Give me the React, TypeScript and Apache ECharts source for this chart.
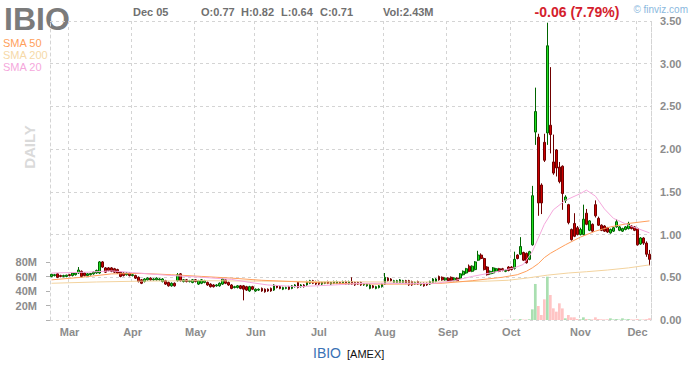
import React, { useEffect, useRef } from 'react';
import * as echarts from 'echarts';

const ticker = 'IBIO';
const exchange = 'AMEX';
const lastDateLabel = 'Dec 05';
const lastVolumeLabel = '2.43M';

// daily candles: [open, high, low, close]
const ohlc: number[][] = [
  [0.51,0.54,0.50,0.535],[0.52,0.54,0.51,0.53],[0.54,0.55,0.49,0.50],[0.52,0.53,0.50,0.51],[0.51,0.53,0.50,0.52],
  [0.51,0.53,0.50,0.525],[0.53,0.54,0.51,0.52],[0.52,0.56,0.51,0.55],[0.53,0.56,0.52,0.55],[0.55,0.62,0.54,0.585],
  [0.57,0.58,0.50,0.51],[0.55,0.56,0.51,0.52],[0.52,0.55,0.51,0.54],[0.53,0.55,0.52,0.545],[0.54,0.57,0.53,0.56],
  [0.55,0.59,0.54,0.58],[0.55,0.69,0.54,0.68],[0.68,0.69,0.61,0.62],[0.61,0.62,0.55,0.56],[0.61,0.62,0.57,0.58],
  [0.61,0.62,0.56,0.57],[0.60,0.61,0.55,0.56],[0.59,0.60,0.54,0.55],[0.56,0.57,0.50,0.51],[0.55,0.56,0.51,0.52],
  [0.53,0.56,0.52,0.55],[0.55,0.56,0.51,0.52],[0.52,0.54,0.51,0.53],[0.52,0.53,0.48,0.49],[0.50,0.51,0.44,0.45],
  [0.47,0.48,0.42,0.43],[0.45,0.49,0.44,0.48],[0.47,0.50,0.46,0.49],[0.49,0.50,0.46,0.47],[0.47,0.49,0.46,0.48],
  [0.47,0.50,0.46,0.49],[0.47,0.49,0.46,0.48],[0.45,0.49,0.44,0.48],[0.46,0.47,0.41,0.42],[0.44,0.45,0.39,0.40],
  [0.40,0.44,0.39,0.43],[0.43,0.44,0.39,0.40],[0.46,0.55,0.45,0.53],[0.54,0.55,0.45,0.46],[0.45,0.48,0.44,0.47],
  [0.47,0.48,0.44,0.45],[0.45,0.47,0.44,0.46],[0.44,0.48,0.43,0.47],[0.47,0.48,0.44,0.45],[0.42,0.47,0.41,0.46],
  [0.43,0.48,0.42,0.47],[0.44,0.47,0.43,0.46],[0.44,0.45,0.40,0.41],[0.42,0.43,0.38,0.39],[0.41,0.42,0.38,0.39],
  [0.40,0.42,0.39,0.41],[0.40,0.44,0.39,0.43],[0.42,0.49,0.41,0.48],[0.47,0.48,0.42,0.43],[0.44,0.45,0.40,0.41],
  [0.41,0.42,0.36,0.37],[0.38,0.40,0.37,0.39],[0.38,0.41,0.37,0.40],[0.40,0.41,0.36,0.37],[0.40,0.41,0.23,0.36],
  [0.39,0.40,0.34,0.35],[0.34,0.40,0.33,0.39],[0.39,0.40,0.35,0.36],[0.34,0.37,0.33,0.36],[0.35,0.37,0.34,0.36],
  [0.37,0.38,0.33,0.34],[0.36,0.37,0.32,0.33],[0.36,0.37,0.33,0.34],[0.37,0.38,0.33,0.34],[0.35,0.42,0.34,0.41],
  [0.40,0.41,0.37,0.38],[0.39,0.40,0.36,0.37],[0.36,0.39,0.35,0.38],[0.37,0.39,0.36,0.38],[0.39,0.40,0.35,0.36],
  [0.37,0.41,0.36,0.40],[0.39,0.42,0.38,0.41],[0.44,0.45,0.37,0.38],[0.39,0.42,0.38,0.41],[0.41,0.42,0.38,0.39],
  [0.41,0.46,0.40,0.45],[0.43,0.47,0.42,0.46],[0.46,0.47,0.42,0.43],[0.45,0.46,0.41,0.42],[0.45,0.46,0.41,0.42],
  [0.42,0.45,0.41,0.44],[0.43,0.45,0.42,0.44],[0.45,0.46,0.42,0.43],[0.42,0.45,0.41,0.44],[0.43,0.46,0.42,0.45],
  [0.43,0.46,0.42,0.45],[0.44,0.45,0.42,0.43],[0.43,0.46,0.42,0.45],[0.45,0.46,0.41,0.42],[0.42,0.46,0.41,0.45],
  [0.45,0.50,0.41,0.42],[0.44,0.45,0.40,0.41],[0.44,0.45,0.41,0.42],[0.44,0.45,0.40,0.41],[0.41,0.43,0.40,0.42],
  [0.40,0.43,0.39,0.42],[0.37,0.42,0.36,0.41],[0.40,0.41,0.37,0.38],[0.37,0.40,0.36,0.39],[0.38,0.41,0.37,0.40],
  [0.39,0.43,0.38,0.42],[0.42,0.55,0.41,0.50],[0.49,0.50,0.45,0.46],[0.48,0.49,0.45,0.46],[0.44,0.47,0.43,0.46],
  [0.44,0.47,0.43,0.46],[0.44,0.48,0.43,0.47],[0.44,0.47,0.43,0.46],[0.46,0.47,0.42,0.43],[0.46,0.47,0.40,0.41],
  [0.45,0.46,0.40,0.41],[0.42,0.45,0.41,0.44],[0.45,0.46,0.41,0.42],[0.41,0.44,0.40,0.43],[0.43,0.44,0.39,0.40],
  [0.43,0.44,0.40,0.41],[0.42,0.46,0.41,0.45],[0.44,0.49,0.43,0.48],[0.45,0.49,0.44,0.48],[0.51,0.52,0.46,0.47],
  [0.50,0.51,0.46,0.47],[0.47,0.50,0.46,0.49],[0.49,0.50,0.45,0.46],[0.50,0.51,0.45,0.46],[0.46,0.50,0.45,0.49],
  [0.49,0.50,0.45,0.46],[0.49,0.55,0.48,0.54],[0.53,0.58,0.52,0.57],[0.55,0.61,0.54,0.60],[0.63,0.65,0.56,0.57],
  [0.57,0.64,0.56,0.63],[0.59,0.69,0.58,0.68],[0.70,0.81,0.69,0.76],[0.76,0.78,0.71,0.72],[0.72,0.73,0.58,0.59],
  [0.62,0.63,0.52,0.53],[0.54,0.58,0.53,0.57],[0.55,0.62,0.54,0.61],[0.57,0.61,0.56,0.60],[0.60,0.61,0.56,0.57],
  [0.60,0.61,0.57,0.58],[0.57,0.59,0.56,0.58],[0.62,0.63,0.57,0.58],[0.62,0.63,0.58,0.59],[0.605,0.80,0.59,0.71],
  [0.76,0.77,0.71,0.72],[0.77,0.97,0.76,0.86],[0.79,0.80,0.69,0.70],[0.78,0.79,0.66,0.67],[0.71,0.81,0.70,0.80],
  [0.88,1.57,0.87,1.455],[2.20,2.72,2.05,2.44],[2.14,2.18,1.22,1.37],[1.58,1.60,1.24,1.37],[2.08,2.18,1.85,1.87],
  [2.19,3.48,2.05,3.21],[2.28,2.96,1.95,2.17],[1.85,2.17,1.70,1.72],[1.99,2.00,1.68,1.78],[1.79,1.85,1.60,1.62],
  [1.80,1.81,1.29,1.48],[1.40,1.46,1.37,1.44],[1.35,1.36,1.12,1.14],[1.06,1.07,0.93,0.94],[1.13,1.25,0.97,0.98],
  [1.08,1.10,0.99,1.00],[1.00,1.08,0.99,1.06],[1.00,1.35,0.99,1.18],[1.25,1.30,1.11,1.12],[1.05,1.17,1.04,1.16],
  [1.12,1.13,1.03,1.04],[1.35,1.40,1.20,1.22],[1.19,1.21,1.10,1.11],[1.11,1.12,1.04,1.05],[1.10,1.11,1.03,1.04],
  [1.08,1.09,1.02,1.03],[1.02,1.07,1.01,1.06],[1.04,1.09,1.03,1.08],[1.09,1.18,1.08,1.15],[1.05,1.10,1.04,1.09],
  [1.04,1.08,1.03,1.07],[1.06,1.10,1.05,1.09],[1.07,1.15,1.06,1.13],[1.10,1.11,1.06,1.07],[1.09,1.10,1.04,1.05],
  [1.07,1.08,0.87,0.88],[0.89,0.97,0.88,0.96],[0.96,0.97,0.88,0.90],[0.90,0.92,0.74,0.77],[0.77,0.82,0.64,0.71],
];

// month tick labels and the candle index where each month starts
const monthLabels = ['Mar', 'Apr', 'May', 'Jun', 'Jul', 'Aug', 'Sep', 'Oct', 'Nov', 'Dec'];
const monthStart = [6, 27, 48, 68, 89, 111, 132, 153, 176, 195];

// volume in millions, from candle index volStart onwards
const volStart = 150;
const volumeM = [
  0.3, 0.3, 0.3, 0.4, 0.8, 0.5, 1.4, 0.6, 0.5, 1.0,
  14.7, 49.7, 19.3, 6.9, 28.5, 59.8, 34.5, 16.1, 11.5, 23,
  16, 2.3, 6.9, 3.7, 3.7, 1.4, 1.0, 3.7, 1.4, 1.0,
  0.8, 3.7, 1.4, 1.0, 0.8, 1.0, 2.3, 0.8, 1.4, 0.6,
  2.3, 0.8, 1.4, 0.8, 0.7, 1.4, 0.6, 0.8, 1.2, 2.43,
];

// moving averages read at candle indices: [index, value]
const sma50 = [
  [0, 0.47], [10, 0.50], [20, 0.54], [30, 0.545], [40, 0.53], [50, 0.51], [60, 0.49], [70, 0.465],
  [80, 0.45], [90, 0.435], [100, 0.425], [110, 0.42], [120, 0.42], [130, 0.43], [140, 0.46], [145, 0.48],
  [150, 0.50], [155, 0.53], [158, 0.57], [160, 0.61], [162, 0.66], [164, 0.73], [166, 0.78], [168, 0.82],
  [171, 0.88], [176, 0.97], [181, 1.04], [186, 1.09], [192, 1.13], [199, 1.16],
];
const sma200 = [
  [0, 0.43], [15, 0.445], [30, 0.455], [50, 0.46], [70, 0.455], [90, 0.45], [110, 0.445], [130, 0.445],
  [145, 0.455], [152, 0.465], [158, 0.49], [165, 0.525], [172, 0.55], [178, 0.565], [185, 0.585],
  [192, 0.61], [199, 0.645],
];
const sma20 = [
  [0, 0.55], [12, 0.56], [20, 0.575], [27, 0.555], [38, 0.525], [50, 0.50], [60, 0.475], [66, 0.44],
  [72, 0.41], [82, 0.39], [94, 0.41], [104, 0.43], [112, 0.43], [120, 0.425], [128, 0.43], [134, 0.46],
  [140, 0.51], [146, 0.55], [150, 0.58], [154, 0.61], [157, 0.65], [160, 0.80], [162, 0.96], [164, 1.12],
  [167, 1.29], [171, 1.40], [176, 1.48], [178, 1.52], [181, 1.45], [184, 1.30], [187, 1.19], [192, 1.11],
  [199, 1.02],
];

const FONT = '"Liberation Sans", Arial, sans-serif';
const GRID_COLOR = '#d4d4d4';
const AXIS_TEXT = '#8c8c8c';

export default function App() {
  const ref = useRef<HTMLDivElement>(null);

  useEffect(() => {
    document.body.style.margin = '0';
    const chart = echarts.init(ref.current!, null, { renderer: 'svg' });
    const N = ohlc.length;
    const cats = ohlc.map((_, i) => String(i));
    const candleData = ohlc.map(([o, h, l, c]) => [o, c, l, h]);
    const volData = cats.map((_, i) => {
      if (i < volStart) return null;
      const v = volumeM[i - volStart];
      const up = ohlc[i][3] >= ohlc[i][0];
      return { value: v * 1e6, itemStyle: { color: up ? '#a9dfb0' : '#ffc4c4' } };
    });
    const last = ohlc[N - 1];
    const prevClose = ohlc[N - 2][3];
    const change = last[3] - prevClose;
    const pct = (Math.abs(change) / prevClose) * 100;
    const changeText = `${change.toFixed(2)} (${pct.toFixed(2)}%)`;

    const headerFont = `bold 11px ${FONT}`;
    const txt = (text: string, x: number, y: number, font: string, fill: string, align = 'left', extra: any = {}) => ({
      type: 'text',
      x,
      y,
      silent: true,
      ...extra,
      style: { text, font, fill, align, verticalAlign: 'middle', textAlign: align, textVerticalAlign: 'middle' },
    });

    const option: any = {
      animation: false,
      backgroundColor: '#ffffff',
      grid: [
        { left: 50, right: 41, top: 21, bottom: 45 },
        { left: 50, right: 41, top: 262, bottom: 45 },
      ],
      xAxis: [
        {
          type: 'category',
          gridIndex: 0,
          data: cats,
          boundaryGap: true,
          axisLine: { show: false },
          axisTick: { show: false },
          axisLabel: {
            show: true,
            interval: (i: number) => monthStart.includes(i),
            formatter: (_v: string, i: number) => monthLabels[monthStart.indexOf(i)] ?? '',
            color: AXIS_TEXT,
            fontWeight: 'bold',
            fontSize: 11,
            fontFamily: FONT,
            margin: 6,
          },
          splitLine: {
            show: true,
            interval: (i: number) => monthStart.includes(i),
            lineStyle: { color: GRID_COLOR, type: [3, 3], width: 1 },
          },
        },
        {
          type: 'category',
          gridIndex: 1,
          data: cats,
          boundaryGap: true,
          show: false,
        },
      ],
      yAxis: [
        {
          type: 'value',
          gridIndex: 0,
          position: 'right',
          min: 0,
          max: 3.5,
          interval: 0.5,
          axisLine: { show: true, lineStyle: { color: GRID_COLOR, type: [3, 3] } },
          axisTick: { show: false },
          axisLabel: {
            formatter: (v: number) => v.toFixed(2),
            color: AXIS_TEXT,
            fontWeight: 'bold',
            fontSize: 11,
            fontFamily: FONT,
            margin: 9,
          },
          splitLine: { show: true, lineStyle: { color: GRID_COLOR, type: [3, 3], width: 1 } },
        },
        {
          type: 'value',
          gridIndex: 0,
          position: 'left',
          min: 0,
          max: 3.5,
          interval: 0.5,
          axisLine: { show: true, lineStyle: { color: GRID_COLOR, type: [3, 3] } },
          axisTick: { show: false },
          axisLabel: { show: false },
          splitLine: { show: false },
        },
        {
          type: 'value',
          gridIndex: 1,
          position: 'left',
          min: 0,
          max: 80e6,
          interval: 20e6,
          axisLine: { show: false },
          axisTick: { show: true, length: 4, lineStyle: { color: '#b0b0b0' } },
          axisLabel: {
            formatter: (v: number) => (v > 0 ? `${v / 1e6}M` : ''),
            color: AXIS_TEXT,
            fontWeight: 'bold',
            fontSize: 11,
            fontFamily: FONT,
            margin: 13,
          },
          splitLine: { show: false },
        },
      ],
      series: [
        {
          type: 'bar',
          xAxisIndex: 1,
          yAxisIndex: 2,
          data: volData,
          barCategoryGap: '10%',
          z: 1,
          silent: true,
        },
        {
          type: 'candlestick',
          xAxisIndex: 0,
          yAxisIndex: 0,
          data: candleData,
          barWidth: 2.2,
          z: 3,
          itemStyle: {
            color: '#1fe01f',
            color0: '#cc0000',
            borderColor: '#006400',
            borderColor0: '#700000',
            borderWidth: 1,
          },
          markLine: {
            silent: true,
            symbol: ['none', 'none'],
            animation: false,
            lineStyle: { opacity: 0 },
            label: {
              show: true,
              position: 'end',
              distance: 7,
              formatter: () => last[3].toFixed(2),
              backgroundColor: '#ffff4a',
              color: '#333333',
              fontWeight: 'bold',
              fontSize: 11,
              fontFamily: FONT,
              padding: [2, 3, 1, 3],
            },
            data: [{ yAxis: last[3] }],
          },
        },
        {
          type: 'line',
          name: 'SMA 200',
          xAxisIndex: 0,
          yAxisIndex: 0,
          data: sma200,
          showSymbol: false,
          z: 4,
          lineStyle: { color: '#f3d39e', width: 1 },
          silent: true,
        },
        {
          type: 'line',
          name: 'SMA 50',
          xAxisIndex: 0,
          yAxisIndex: 0,
          data: sma50,
          showSymbol: false,
          z: 4,
          lineStyle: { color: '#ff9f5c', width: 1 },
          silent: true,
        },
        {
          type: 'line',
          name: 'SMA 20',
          xAxisIndex: 0,
          yAxisIndex: 0,
          data: sma20,
          showSymbol: false,
          z: 4,
          lineStyle: { color: '#f5a8dc', width: 1 },
          silent: true,
        },
      ],
      graphic: [
        txt(ticker, 4, 19, `bold 32px ${FONT}`, '#7b7b7b'),
        txt(lastDateLabel, 133, 12, headerFont, '#707070'),
        txt(`O:${last[0].toFixed(2)}`, 201, 12, headerFont, '#707070'),
        txt(`H:${last[1].toFixed(2)}`, 241, 12, headerFont, '#707070'),
        txt(`L:${last[2].toFixed(2)}`, 281, 12, headerFont, '#707070'),
        txt(`C:${last[3].toFixed(2)}`, 320, 12, headerFont, '#707070'),
        txt(`Vol:${lastVolumeLabel}`, 383, 12, headerFont, '#707070'),
        txt(changeText, 577, 12, `bold 14px ${FONT}`, '#d4202c', 'center'),
        txt('© finviz.com', 688, 9, `10px ${FONT}`, '#8ab8de', 'right'),
        txt('SMA 50', 3, 43, `11px ${FONT}`, '#ff9f5c'),
        txt('SMA 200', 3, 55, `11px ${FONT}`, '#f6d9a8'),
        txt('SMA 20', 3, 67, `11px ${FONT}`, '#f5a8dc'),
        txt('DAILY', 29, 147, `bold 15px ${FONT}`, '#dadada', 'center', { rotation: Math.PI / 2 }),
        txt(ticker, 313, 353, `14px ${FONT}`, '#3a72b5'),
        txt(`[${exchange}]`, 347, 354, `11px ${FONT}`, '#111111'),
      ],
    };

    chart.setOption(option);
    return () => chart.dispose();
  }, []);

  return <div ref={ref} style={{ position: 'absolute', left: 0, top: 0, width: 692, height: 365 }} />;
}
